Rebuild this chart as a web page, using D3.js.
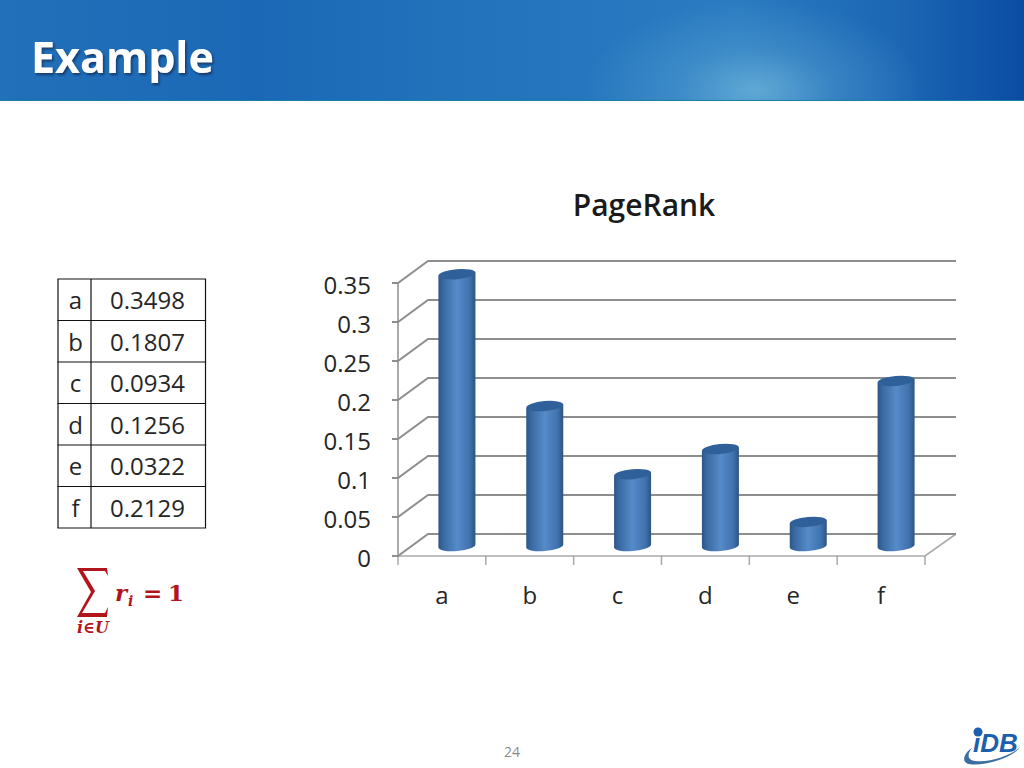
<!DOCTYPE html>
<html><head><meta charset="utf-8">
<script src="https://cdn.jsdelivr.net/npm/d3@7"></script>
<style>html,body{margin:0;padding:0;background:#fff;overflow:hidden}svg{display:block}</style>
</head><body><svg id="c" width="1024" height="768"></svg>
<script>
const categories = ["a","b","c","d","e","f"];
const values = [0.3498,0.1807,0.0934,0.1256,0.0322,0.2129];
const valueLabels = ["0.3498","0.1807","0.0934","0.1256","0.0322","0.2129"];
const yTicks = [0,0.05,0.1,0.15,0.2,0.25,0.3,0.35];
const yTickLabels = ["0","0.05","0.1","0.15","0.2","0.25","0.3","0.35"];
const font = "'Open Sans','Noto Sans',sans-serif";
const svg = d3.select("#c");
const defs = svg.append("defs");

// Header
const hg = defs.append("linearGradient").attr("id","hdr").attr("x1",0).attr("x2",1).attr("y1",0).attr("y2",0);
[[0,"#2270b9"],[0.25,"#1b69b6"],[0.5,"#2374bd"],[0.72,"#2a7bc1"],[0.88,"#1c66b4"],[1,"#0a4ca3"]].forEach(s=>hg.append("stop").attr("offset",s[0]).attr("stop-color",s[1]));
const hr = defs.append("radialGradient").attr("id","glow").attr("cx",0.5).attr("cy",0.5).attr("r",0.5);
hr.append("stop").attr("offset",0).attr("stop-color","#6db4da").attr("stop-opacity",0.8);
hr.append("stop").attr("offset",0.45).attr("stop-color","#6db4da").attr("stop-opacity",0.3);
hr.append("stop").attr("offset",1).attr("stop-color","#6db4da").attr("stop-opacity",0);
const hc = defs.append("clipPath").attr("id","hclip"); hc.append("rect").attr("width",1024).attr("height",100);
svg.append("rect").attr("width",1024).attr("height",101).attr("fill","url(#hdr)");
svg.append("g").attr("clip-path","url(#hclip)").append("ellipse").attr("cx",755).attr("cy",90).attr("rx",170).attr("ry",90).attr("fill","url(#glow)");
svg.append("rect").attr("y",100).attr("width",1024).attr("height",1).attr("fill","#1b7f9f");
const sh = defs.append("filter").attr("id","ts").attr("x","-10%").attr("y","-20%").attr("width","120%").attr("height","150%");
sh.append("feDropShadow").attr("dx",1.5).attr("dy",2).attr("stdDeviation",1.2).attr("flood-color","#0a2a55").attr("flood-opacity",0.75);
svg.append("text").attr("x",31).attr("y",73).attr("font-family",font).attr("font-weight",700).attr("font-size",43).attr("fill","#fff").attr("filter","url(#ts)").text("Example");

// Table
const tx=[58,91,205.5], rowH=41.5, ty=279;
const ink="#262626";
const table = svg.append("g");
categories.forEach((c,i)=>{
  table.append("text").attr("x",(tx[0]+tx[1])/2+1).attr("y",ty+rowH*i+30).attr("text-anchor","middle").attr("font-family",font).attr("font-size",24).attr("fill",ink).text(c);
  table.append("text").attr("x",110).attr("y",ty+rowH*i+30).attr("font-family",font).attr("font-size",24).attr("fill",ink).text(valueLabels[i]);
});
d3.range(categories.length+1).forEach(i=>table.append("line").attr("x1",tx[0]-.6).attr("x2",tx[2]+.6).attr("y1",ty+rowH*i).attr("y2",ty+rowH*i).attr("stroke","#111").attr("stroke-width",1.2));
tx.forEach(x=>table.append("line").attr("x1",x).attr("x2",x).attr("y1",ty).attr("y2",ty+rowH*6).attr("stroke","#111").attr("stroke-width",1.2));

// Formula
const red="#b2141c", serif="'DejaVu Serif','Liberation Serif',serif";
const f=svg.append("g").attr("fill",red).attr("font-family",serif);
f.append("path").attr("d","M77 568H107L108 576L105 571H83L95 591L82 613H105L108 607L107 617H77L91 592Z").attr("fill",red);
f.append("text").attr("x",115).attr("y",601).attr("font-size",23).attr("font-weight",700).attr("font-style","italic").text("r");
f.append("text").attr("x",128).attr("y",606).attr("font-size",14).attr("font-weight",700).attr("font-style","italic").text("i");
f.append("text").attr("x",143).attr("y",601).attr("font-size",23).attr("font-weight",700).text("=");
f.append("text").attr("x",168).attr("y",601).attr("font-size",23).attr("font-weight",700).text("1");
f.append("text").attr("x",77).attr("y",633).attr("font-size",16).attr("font-weight",700).attr("font-style","italic").text("i∈U");

// Chart
const x = d3.scaleBand().domain(categories).range([398,925]);
const y = d3.scaleLinear().domain([0,0.35]).range([556,283]);
const depthX=30, depthY=-22, gridC="#8e8e8e";
const chart=svg.append("g");
chart.append("text").attr("x",644).attr("y",216).attr("text-anchor","middle").attr("font-family",font).attr("font-weight",600).attr("font-size",30).attr("fill","#1a1a1a").text("PageRank");
yTicks.forEach(t=>{
  const yy=y(t);
  chart.append("path").attr("d",`M${392} ${yy}H398L${398+depthX} ${yy+depthY}H956`).attr("fill","none").attr("stroke",gridC).attr("stroke-width",2);
});
chart.append("line").attr("x1",398).attr("x2",398).attr("y1",y(.35)).attr("y2",y(0)).attr("stroke",gridC).attr("stroke-width",1.5);
chart.append("path").attr("d",`M398 ${y(0)}H925L956 ${y(0)+depthY}`).attr("fill","none").attr("stroke",gridC).attr("stroke-width",1.6).attr("stroke-opacity",.75);
[...categories.map(c=>x(c)),925].forEach(v=>chart.append("line").attr("x1",v).attr("x2",v).attr("y1",y(0)).attr("y2",y(0)+9).attr("stroke",gridC).attr("stroke-opacity",.75).attr("stroke-width",1.5));
yTicks.forEach((t,i)=>chart.append("text").attr("x",371).attr("y",y(t)+10.5).attr("text-anchor","end").attr("font-family",font).attr("font-size",24).attr("fill",ink).text(yTickLabels[i]));
categories.forEach(c=>chart.append("text").attr("x",x(c)+x.bandwidth()/2).attr("y",y(0)+48).attr("text-anchor","middle").attr("font-family",font).attr("font-size",24).attr("fill",ink).text(c));

const bg=defs.append("linearGradient").attr("id","bar").attr("x1",0).attr("x2",1).attr("y1",0).attr("y2",0);
[[0,"#2b5587"],[0.12,"#38689f"],[0.5,"#568bc9"],[0.85,"#3f72ad"],[1,"#2c5480"]].forEach(s=>bg.append("stop").attr("offset",s[0]).attr("stop-color",s[1]));
const rx=18.5, ry=5, rot=-5, tiltDy=rx*Math.sin(-rot*Math.PI/180);
categories.forEach((c,i)=>{
  const cx=x(c)+x.bandwidth()/2+15, base=y(0)-10, top=y(values[i])-9;
  const g=chart.append("g");
  g.append("path").attr("d",`M${cx-rx} ${top+tiltDy}L${cx+rx} ${top-tiltDy}L${cx+rx} ${base-tiltDy}A${rx} ${ry} ${rot} 0 1 ${cx-rx} ${base+tiltDy}Z`).attr("fill","url(#bar)");
  g.append("ellipse").attr("cx",cx).attr("cy",top).attr("rx",rx).attr("ry",ry).attr("transform",`rotate(${rot} ${cx} ${top})`).attr("fill","#30609a");
});

// Page number
svg.append("text").attr("x",512).attr("y",757).attr("text-anchor","middle").attr("font-family",font).attr("font-size",14).attr("fill","#8a8a8a").text("24");

// Logo
const logo=svg.append("g");
logo.append("circle").attr("cx",978).attr("cy",732).attr("r",4.5).attr("fill","#1c5fae");
logo.append("text").attr("x",973).attr("y",752).attr("font-family","'Liberation Sans',sans-serif").attr("font-weight",700).attr("font-style","italic").attr("font-size",26).attr("fill","#1c5fae").text("iDB");
logo.append("path").attr("d","M1020 747C1014 757 985 767 969 764C960 762 965 752 972 748C967 754 967 760 975 761C990 763 1012 755 1020 747Z").attr("fill","#3a6f9f");
</script></body></html>
